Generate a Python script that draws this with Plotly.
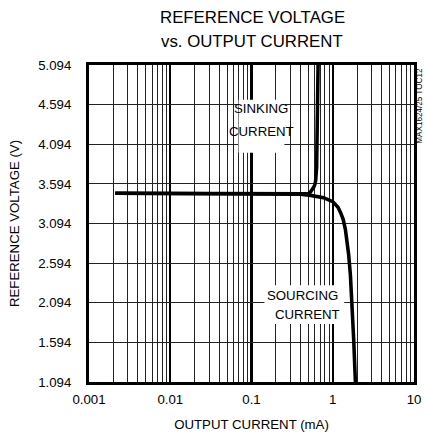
import plotly.graph_objects as go

# Data
sink_current_mA = [0.0021, 0.01, 0.05, 0.2, 0.45, 0.51, 0.535, 0.56, 0.582, 0.6, 0.615, 0.633, 0.645, 0.66]
sink_voltage_V = [3.475, 3.474, 3.472, 3.468, 3.465, 3.47, 3.495, 3.52, 3.55, 3.58, 3.63, 3.8, 4.3, 5.094]

source_current_mA = [0.0021, 0.01, 0.05, 0.2, 0.4, 0.51, 0.77, 1.0, 1.16, 1.25, 1.34, 1.43,
                     1.50, 1.57, 1.65, 1.73, 1.81, 1.90]
source_voltage_V = [3.475, 3.474, 3.472, 3.468, 3.462, 3.452, 3.42, 3.37, 3.30, 3.23, 3.15, 3.02,
                    2.87, 2.70, 2.44, 2.10, 1.63, 1.094]

x_tick_vals = [0.001, 0.01, 0.1, 1, 10]
x_tick_text = ["0.001", "0.01", "0.1", "1", "10"]
y_tick_vals = [1.094, 1.594, 2.094, 2.594, 3.094, 3.594, 4.094, 4.594, 5.094]
y_tick_text = ["1.094", "1.594", "2.094", "2.594", "3.094", "3.594", "4.094", "4.594", "5.094"]

FONT = "Liberation Sans, Arial, Helvetica, sans-serif"

# layout designed in reference pixel units, scaled to the rendered page
S = 433 / 425


def s(v):
    return v * S


L, T, PW, PH = 87, 64, 326, 311
W, H = 425, 434

fig = go.Figure()
fig.add_trace(go.Scatter(x=sink_current_mA, y=sink_voltage_V, mode="lines",
                         line=dict(color="black", width=s(3.5)), showlegend=False, hoverinfo="skip"))
fig.add_trace(go.Scatter(x=source_current_mA, y=source_voltage_V, mode="lines",
                         line=dict(color="black", width=s(3.5)), showlegend=False, hoverinfo="skip"))


def paper_x(px):
    return (px - L) / PW


def paper_y(py):
    return (T + PH - py) / PH


# white boxes behind the curve labels
fig.add_shape(type="rect", xref="paper", yref="paper",
              x0=paper_x(237), x1=paper_x(283), y0=paper_y(150), y1=paper_y(98),
              fillcolor="white", line=dict(width=0), layer="above")
fig.add_shape(type="rect", xref="paper", yref="paper",
              x0=paper_x(263), x1=paper_x(343), y0=paper_y(318), y1=paper_y(280),
              fillcolor="white", line=dict(width=0), layer="above")

ann = [
    dict(text="SINKING", x=paper_x(260), y=paper_y(107)),
    dict(text="CURRENT", x=paper_x(260), y=paper_y(129)),
    dict(text="SOURCING", x=paper_x(301), y=paper_y(290)),
    dict(text="CURRENT", x=paper_x(306), y=paper_y(309)),
]
for a in ann:
    fig.add_annotation(text=a["text"], x=a["x"], y=a["y"], xref="paper", yref="paper",
                       showarrow=False, xanchor="center", yanchor="middle",
                       font=dict(family=FONT, size=s(13), color="black"))

fig.add_annotation(text="REFERENCE VOLTAGE", x=paper_x(251), y=paper_y(17), xref="paper", yref="paper",
                   showarrow=False, xanchor="center", yanchor="middle",
                   font=dict(family=FONT, size=s(16.5), color="black"))
fig.add_annotation(text="vs. OUTPUT CURRENT", x=paper_x(251), y=paper_y(41), xref="paper", yref="paper",
                   showarrow=False, xanchor="center", yanchor="middle",
                   font=dict(family=FONT, size=s(16.5), color="black"))

fig.add_annotation(text="MAX1624/25 TOC12", x=paper_x(419), y=paper_y(104), xref="paper", yref="paper",
                   showarrow=False, xanchor="center", yanchor="middle", textangle=-90,
                   font=dict(family=FONT, size=s(8), color="black"))

fig.update_xaxes(type="log", range=[-3, 1], tickvals=x_tick_vals, ticktext=x_tick_text,
                 showgrid=True, gridcolor="black", gridwidth=s(2),
                 minor=dict(dtick="D1", showgrid=True, gridcolor="#222", gridwidth=1, ticks=""),
                 showline=True, linecolor="black", linewidth=s(3), mirror=True,
                 ticks="", ticklabelstandoff=round(s(3)), zeroline=False,
                 tickfont=dict(family=FONT, size=s(13), color="black"),
                 title=dict(text="OUTPUT CURRENT (mA)", font=dict(family=FONT, size=s(13), color="black"),
                            standoff=round(s(14))))
fig.update_yaxes(range=[1.094, 5.094], tickvals=y_tick_vals, ticktext=y_tick_text,
                 showgrid=True, gridcolor="#222", gridwidth=1,
                 showline=True, linecolor="black", linewidth=s(3), mirror=True,
                 ticks="", ticklabelstandoff=round(s(12)), zeroline=False,
                 tickfont=dict(family=FONT, size=s(13), color="black"),
                 title=dict(text="REFERENCE VOLTAGE (V)", font=dict(family=FONT, size=s(13), color="black"),
                            standoff=round(s(16))))

fig.update_layout(width=round(s(W)), height=round(s(H)),
                  margin=dict(l=round(s(L)), r=round(s(W - L - PW)), t=round(s(T)),
                              b=round(s(H)) - round(s(T)) - round(s(PH))),
                  paper_bgcolor="white", plot_bgcolor="white", showlegend=False,
                  hovermode=False)

fig.write_html("out.html", config={"displayModeBar": False, "staticPlot": True},
               post_script="document.body.style.margin='0';document.body.style.overflow='hidden';")
